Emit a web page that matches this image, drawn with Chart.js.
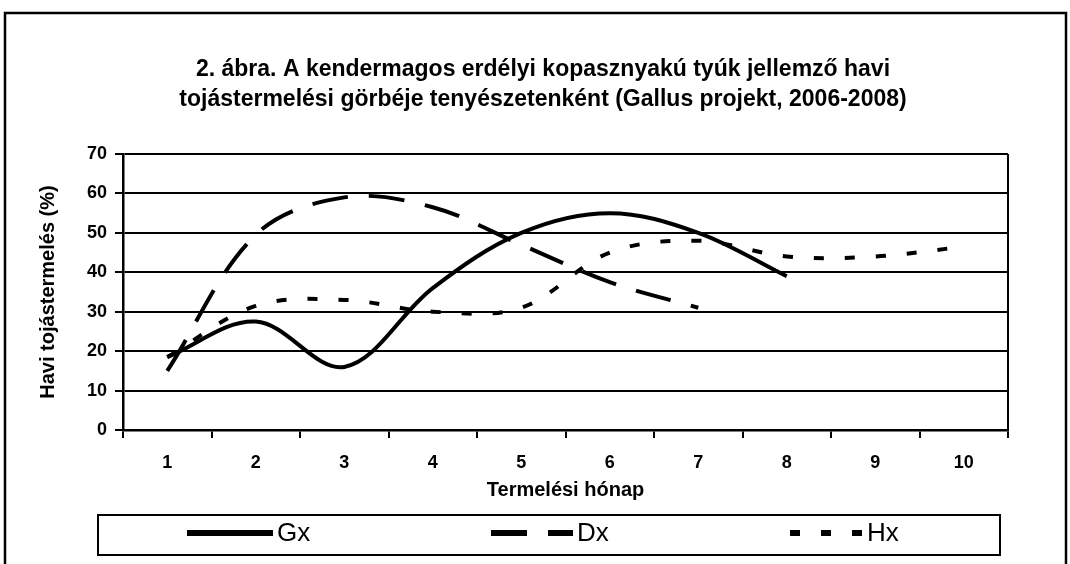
<!DOCTYPE html>
<html>
<head>
<meta charset="utf-8">
<script src="https://cdn.jsdelivr.net/npm/chart.js@4.4.0/dist/chart.umd.min.js"></script>
<style>
  html, body { margin: 0; padding: 0; background: #fff; }
  #wrap { width: 1070px; height: 564px; }
</style>
</head>
<body>
<div id="wrap"><canvas id="chart" width="1070" height="564"></canvas></div>
<script>
// chart data
const months = ["1", "2", "3", "4", "5", "6", "7", "8", "9", "10"];
const gxValues = [18.5, 27.5, 16, 36, 50, 55, 50, 39];
const dxValues = [15, 49.5, 59, 56.5, 47, 37.5, 31];
const hxValues = [18.5, 31.5, 33, 30, 31, 45, 48, 44, 44, 46.5];
const seriesNames = ["Gx", "Dx", "Hx"];
const yMax = 70;
const yStep = 10;

const titleLines = [
  "2. ábra. A kendermagos erdélyi kopasznyakú tyúk jellemző havi",
  "tojástermelési görbéje tenyészetenként (Gallus projekt, 2006-2008)"
];
const yTitle = "Havi tojástermelés (%)";
const xTitle = "Termelési hónap";

const FONT = "'Liberation Sans', Arial, sans-serif";
Chart.defaults.font.family = FONT;
Chart.defaults.color = "#000";

// frame, title, plot border and the boxed legend at the bottom
const decor = {
  id: "decor",
  beforeDraw(chart) {
    const ctx = chart.ctx;
    ctx.save();
    ctx.fillStyle = "#fff";
    ctx.fillRect(0, 0, chart.width, chart.height);
    ctx.restore();
  },
  beforeDatasetsDraw(chart) {
    const { ctx, chartArea } = chart;
    ctx.save();
    ctx.strokeStyle = "#000";
    ctx.lineWidth = 2;
    ctx.beginPath();
    ctx.moveTo(chartArea.right, chartArea.top);
    ctx.lineTo(chartArea.right, chartArea.bottom);
    ctx.stroke();
    ctx.restore();
  },
  afterDraw(chart) {
    const ctx = chart.ctx;
    ctx.save();

    // outer frame
    ctx.strokeStyle = "#000";
    ctx.lineWidth = 2.5;
    ctx.strokeRect(5, 13, 1061, 600);

    // title
    ctx.fillStyle = "#000";
    ctx.font = "bold 23px " + FONT;
    ctx.textAlign = "center";
    ctx.textBaseline = "alphabetic";
    titleLines.forEach((line, i) => ctx.fillText(line, 543, 76 + i * 30));

    // legend box
    ctx.lineWidth = 2;
    ctx.strokeRect(98, 515, 902, 40);

    const starts = [187, 491, 790];
    const lengths = [86, 82, 73];
    const y = 533;
    ctx.font = "26px " + FONT;
    ctx.textAlign = "left";
    ctx.textBaseline = "middle";
    chart.data.datasets.forEach((ds, i) => {
      ctx.setLineDash(ds.borderDash || []);
      ctx.lineWidth = 6;
      ctx.lineCap = "butt";
      ctx.beginPath();
      ctx.moveTo(starts[i], y);
      ctx.lineTo(starts[i] + lengths[i], y);
      ctx.stroke();
      ctx.setLineDash([]);
      ctx.fillText(ds.label, starts[i] + lengths[i] + 4, y + 1);
    });
    ctx.restore();
  }
};

const ctx = document.getElementById("chart").getContext("2d");
new Chart(ctx, {
  type: "line",
  data: {
    labels: months,
    datasets: [
      { label: seriesNames[0], data: gxValues, borderColor: "#000", borderWidth: 4, borderDash: [] },
      { label: seriesNames[1], data: dxValues, borderColor: "#000", borderWidth: 4, borderDash: [36, 21] },
      { label: seriesNames[2], data: hxValues, borderColor: "#000", borderWidth: 4, borderDash: [10, 21] }
    ]
  },
  options: {
    responsive: false,
    animation: false,
    devicePixelRatio: 1,
    layout: { padding: { top: 154, left: 32, right: 62, bottom: 59 } },
    elements: {
      point: { radius: 0 },
      line: { tension: 0.35, fill: false, borderCapStyle: "butt" }
    },
    plugins: {
      legend: { display: false },
      title: { display: false },
      tooltip: { enabled: false }
    },
    scales: {
      x: {
        offset: true,
        grid: { offset: true, drawOnChartArea: false, color: "#000", lineWidth: 2, tickLength: 8 },
        border: { color: "#000", width: 2.5 },
        ticks: { font: { size: 18, weight: "bold" }, padding: 14, maxRotation: 0 },
        title: { display: true, text: xTitle, font: { size: 20, weight: "bold" }, padding: { top: 0, bottom: 3 } },
        afterFit(scale) { scale.height = 75; }
      },
      y: {
        min: 0,
        max: yMax,
        ticks: { stepSize: yStep, font: { size: 18, weight: "bold" }, padding: 8 },
        grid: { color: "#000", lineWidth: 2, tickLength: 8 },
        border: { color: "#000", width: 2.5 },
        title: { display: true, text: yTitle, font: { size: 20, weight: "bold" }, padding: { top: 4, bottom: 0 } },
        afterFit(scale) { scale.width = 91; }
      }
    }
  },
  plugins: [decor]
});
</script>
</body>
</html>
